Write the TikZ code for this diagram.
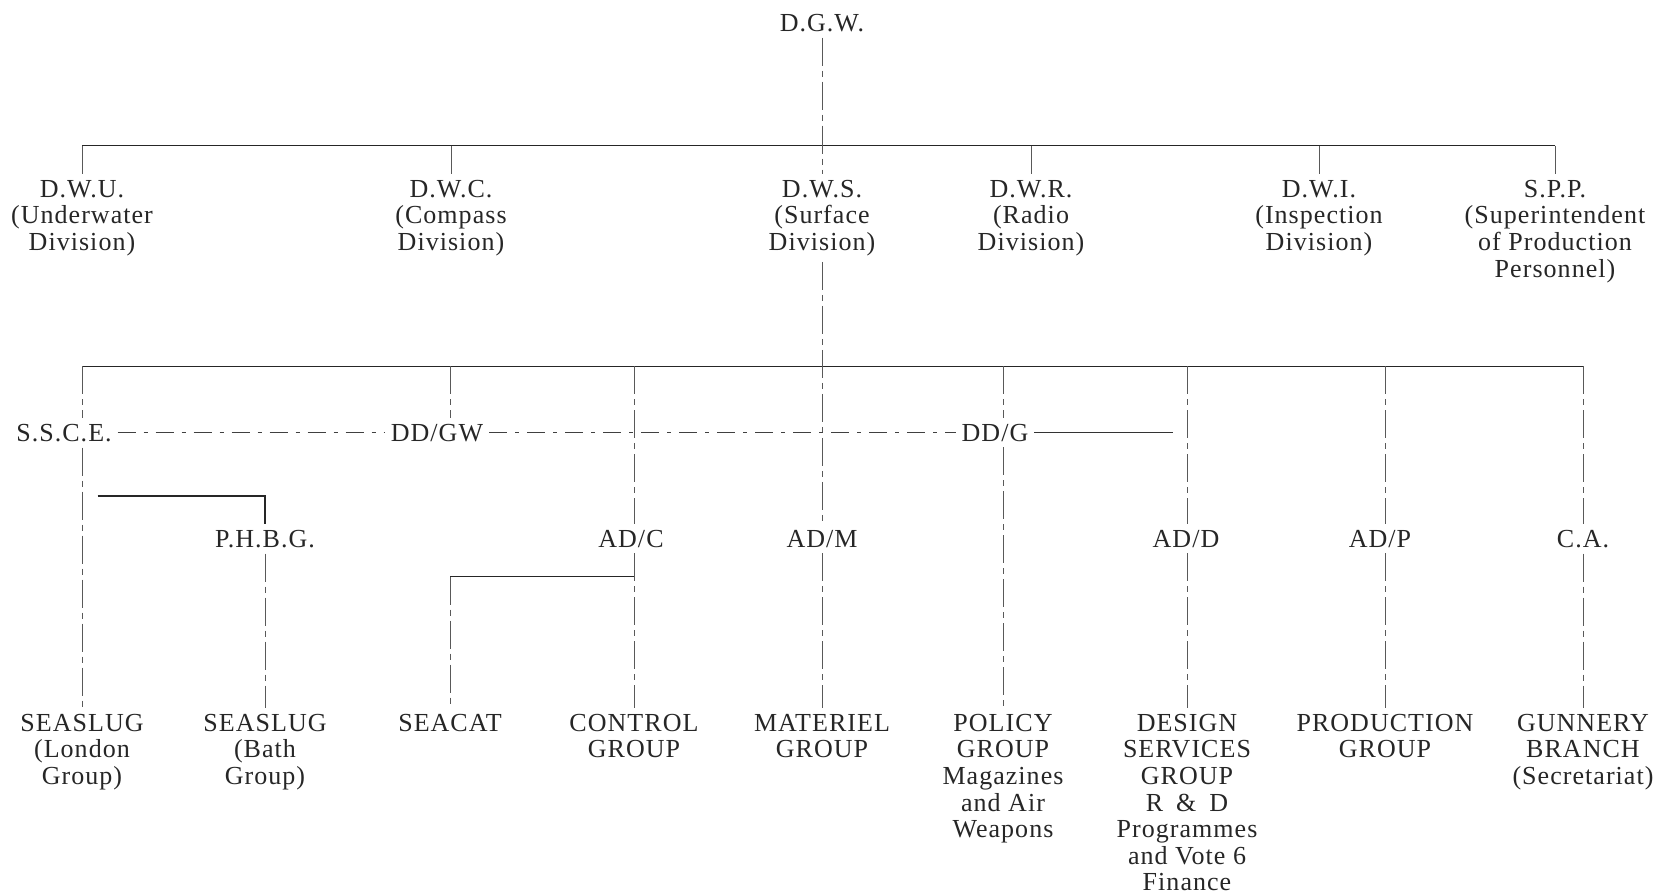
\documentclass[tikz,border=0pt]{standalone}
\usepackage{fontspec}
\setmainfont{Liberation Serif}[LetterSpace=4]
\begin{document}
\begin{tikzpicture}[x=0.5pt,y=-0.5pt,
  lbl/.style={inner sep=0pt, outer sep=3pt, anchor=north, align=center,
    font=\fontsize{13}{13.3}\selectfont, text=black!85},
  vline/.style={draw=black!65, line width=0.5pt, dash pattern=on 14pt off 2.5pt on 3pt off 2.5pt},
  hbar/.style={draw=black!85, line width=0.9pt},
  hdash/.style={draw=black!75, line width=0.6pt, dash pattern=on 9pt off 4pt on 2pt off 4pt},
  hsolid/.style={draw=black!80, line width=0.6pt}]
\useasboundingbox (0,0) rectangle (1665,895);

% top
\node[lbl] (dgw) at (822,8) {D.G.W.};
% divisions
\node[lbl] (dwu) at (82,174) {D.W.U.\\(Underwater\\Division)};
\node[lbl] (dwc) at (451,174) {D.W.C.\\(Compass\\Division)};
\node[lbl] (dws) at (822,174) {D.W.S.\\(Surface\\Division)};
\node[lbl] (dwr) at (1031,174) {D.W.R.\\(Radio\\Division)};
\node[lbl] (dwi) at (1319,174) {D.W.I.\\(Inspection\\Division)};
\node[lbl] (spp) at (1555,174) {S.P.P.\\(Superintendent\\of Production\\Personnel)};
% row 3
\node[lbl] (ssce) at (64,418) {S.S.C.E.};
\node[lbl] (ddgw) at (437,418) {DD/GW};
\node[lbl] (ddg) at (995,418) {DD/G};
% row 4
\node[lbl] (phbg) at (265,524) {P.H.B.G.};
\node[lbl] (adc) at (631,524) {AD/C};
\node[lbl] (adm) at (822,524) {AD/M};
\node[lbl] (adD) at (1186,524) {AD/D};
\node[lbl] (adp) at (1380,524) {AD/P};
\node[lbl] (ca) at (1583,524) {C.A.};
% bottom row
\node[lbl] (seaslugL) at (82,708) {SEASLUG\\(London\\Group)};
\node[lbl] (seaslugB) at (265,708) {SEASLUG\\(Bath\\Group)};
\node[lbl] (seacat) at (450,708) {SEACAT};
\node[lbl] (control) at (634,708) {CONTROL\\GROUP};
\node[lbl] (materiel) at (822,708) {MATERIEL\\GROUP};
\node[lbl] (policy) at (1003,708) {POLICY\\GROUP\\Magazines\\and Air\\Weapons};
\node[lbl] (design) at (1187,708) {DESIGN\\SERVICES\\GROUP\\R\enspace\&\enspace D\\Programmes\\and Vote 6\\Finance};
\node[lbl] (production) at (1385,708) {PRODUCTION\\GROUP};
\node[lbl] (gunnery) at (1583,708) {GUNNERY\\BRANCH\\(Secretariat)};

% bar coordinates
\coordinate (b1) at (0,145.5);
\coordinate (b2) at (0,366.4);
\coordinate (pbar) at (97.7,496);
\coordinate (cbar) at (634,576.6);
\coordinate (ddgend) at (1173,0);

% level 1
\draw[hbar] (dwu.north |- b1) -- (spp.north |- b1);
\draw[vline] (dgw) -- (dws);
\foreach \n in {dwu,dwc,dwr,dwi,spp} \draw[vline] (\n.north |- b1) -- (\n.north);

% level 2
\draw[hbar] (seaslugL.north |- b2) -- (gunnery.north |- b2);
\draw[vline] (dws) -- (adm);
\draw[vline] (adm) -- (materiel);
% S.S.C.E. column
\draw[vline] (seaslugL.north |- b2) -- (seaslugL.north |- ssce.north);
\draw[vline] (seaslugL.north |- ssce.south) -- (seaslugL.north);
% DD/GW
\draw[vline] (seacat.north |- b2) -- (seacat.north |- ddgw.north);
% AD/C column
\draw[vline] (control.north |- b2) -- (control.north |- adc.north);
\draw[vline] (control.north |- adc.south) -- (control.north);
% DD/G column
\draw[vline] (policy.north |- b2) -- (policy.north |- ddg.north);
\draw[vline] (policy.north |- ddg.south) -- (policy.north);
% AD/D column
\draw[vline] (design.north |- b2) -- (design.north |- adD.north);
\draw[vline] (design.north |- adD.south) -- (design.north);
% AD/P column
\draw[vline] (production.north |- b2) -- (production.north |- adp.north);
\draw[vline] (production.north |- adp.south) -- (production.north);
% C.A. column
\draw[vline] (gunnery.north |- b2) -- (gunnery.north |- ca.north);
\draw[vline] (gunnery.north |- ca.south) -- (gunnery.north);

% row 3 links
\draw[hdash] (ssce.east) -- (ssce.east -| ddgw.west);
\draw[hdash] (ddgw.east) -- (ddgw.east -| ddg.west);
\draw[hsolid] (ddg.east) -- (ddg.east -| ddgend);

% P.H.B.G. branch
\draw[hbar, line width=0.7pt] (pbar) -| (phbg.north);
\draw[vline] (phbg) -- (seaslugB);

% SEACAT branch
\draw[hbar, line width=0.7pt] (cbar) -- (cbar -| seacat.north);
\draw[vline] (cbar -| seacat.north) -- (seacat.north);
\end{tikzpicture}
\end{document}
